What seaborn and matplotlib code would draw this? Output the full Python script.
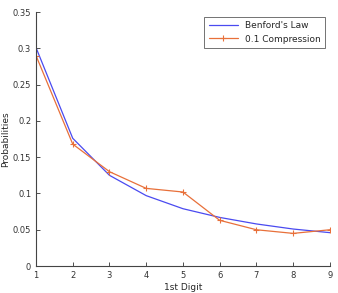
import matplotlib
matplotlib.use("Agg")
import matplotlib.pyplot as plt
import seaborn as sns
import pandas as pd

digits = [1, 2, 3, 4, 5, 6, 7, 8, 9]
benford = [0.301, 0.176, 0.125, 0.097, 0.079, 0.067, 0.058, 0.051, 0.046]
compression = [0.290, 0.168, 0.130, 0.107, 0.102, 0.063, 0.050, 0.045, 0.050]

sns.set_style("ticks")
plt.rcParams["font.family"] = ["DejaVu Sans"]

df = pd.DataFrame({"digit": digits, "Benford's Law": benford, "0.1 Compression": compression})

fig = plt.figure(figsize=(3.38, 2.93), dpi=100)
ax = fig.add_axes([0.1065, 0.092, 0.8695, 0.867])
sns.lineplot(data=df, x="digit", y="Benford's Law", ax=ax, color="#4a4af0",
             linewidth=0.9, label="Benford's Law")
sns.lineplot(data=df, x="digit", y="0.1 Compression", ax=ax, color="#e8703a",
             linewidth=0.9, marker="+", markersize=5, markeredgewidth=0.8,
             markeredgecolor="#e8703a", label="0.1 Compression")

ax.set_xlim(1, 9)
ax.set_ylim(0, 0.35)
ax.set_xticks(digits)
ax.set_yticks([0, 0.05, 0.1, 0.15, 0.2, 0.25, 0.3, 0.35])
ax.set_yticklabels(["0", "0.05", "0.1", "0.15", "0.2", "0.25", "0.3", "0.35"])
ax.tick_params(direction="in", length=3, labelsize=6, colors="#333333", width=0.6)
for s in ["left", "bottom"]:
    ax.spines[s].set_linewidth(0.8)
    ax.spines[s].set_color("#444444")
sns.despine(ax=ax)
ax.set_xlabel("1st Digit", fontsize=6.5, labelpad=2)
ax.set_ylabel("Probabilities", fontsize=6.5, labelpad=2)
leg = ax.legend(loc="upper right", fontsize=6.5, frameon=True, fancybox=False,
                edgecolor="#333333", borderpad=0.5, handlelength=3.2)
leg.get_frame().set_linewidth(0.6)

fig.savefig("out.png", dpi=100)
